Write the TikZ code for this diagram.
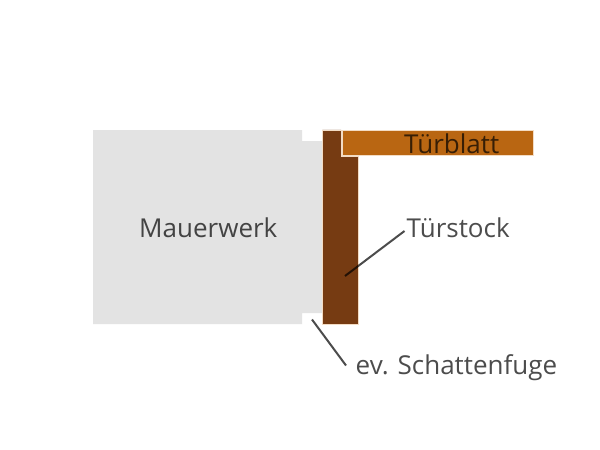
\documentclass[tikz,border=0pt]{standalone}
\usepackage{fontspec}
\setmainfont{Open Sans}
\definecolor{wall}{HTML}{E3E3E3}
\definecolor{frameb}{HTML}{763B12}
\definecolor{leaf}{HTML}{B96612}
\definecolor{edge}{HTML}{F3DCC4}
\tikzset{
  lbl/.style={font=\fontsize{26pt}{28pt}\selectfont, text=black, text opacity=0.7, inner sep=0pt, anchor=base west},
  leader/.style={draw=black, draw opacity=0.7, line width=2pt},
}
\begin{document}
\begin{tikzpicture}[x=1pt,y=-1pt]
\useasboundingbox[fill=white] (0,0) rectangle (600,450);
\fill[wall] (93,130) -- (302,130) -- (302,141) -- (323,141) -- (323,313) -- (302,313) -- (302,324) -- (93,324) -- cycle;
\filldraw[fill=frameb, draw=edge, line width=0.3pt] (322.4,129.8) -- (341,129.8) -- (341,156) -- (358,156) -- (358,324) -- (322.4,324) -- cycle;
\filldraw[fill=leaf, draw=edge, line width=1pt] (342,130) rectangle (533,155.5);
\node[lbl] (leaftext) at (404,153) {Türblatt};
\node[lbl] (wallt) at (139,237) {Mauerwerk};
\node[lbl] (stock) at (406.5,237) {Türstock};
\node[lbl] (fuge) at (355.5,374) {ev. Schattenfuge};
\coordinate (a) at (345,276);
\coordinate (c) at (404.5,231);
\coordinate (b) at (312,319.5);
\coordinate (d) at (346,365.5);
\draw[leader] (a) -- (c);
\draw[leader] (b) -- (d);
\end{tikzpicture}
\end{document}
